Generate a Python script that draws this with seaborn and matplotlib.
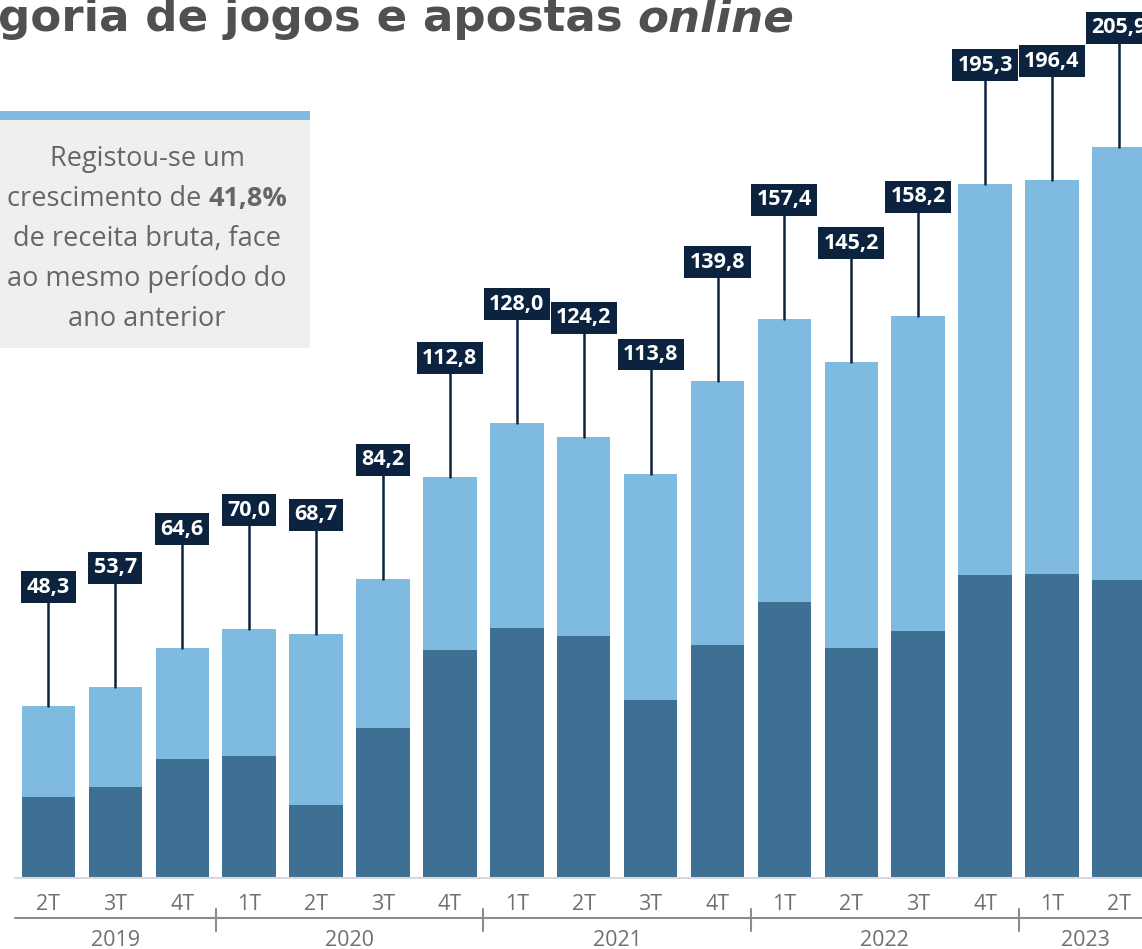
import matplotlib.pyplot as plt
import seaborn as sns
import pandas as pd

# dados (milhoes de euros, receita bruta trimestral)
trimestres = ['2T', '3T', '4T', '1T', '2T', '3T', '4T', '1T', '2T', '3T', '4T',
              '1T', '2T', '3T', '4T', '1T', '2T']
anos = ['2019'] * 3 + ['2020'] * 4 + ['2021'] * 4 + ['2022'] * 4 + ['2023'] * 2
total = [48.3, 53.7, 64.6, 70.0, 68.7, 84.2, 112.8, 128.0, 124.2, 113.8, 139.8,
         157.4, 145.2, 158.2, 195.3, 196.4, 205.9]
parte_escura = [22.7, 25.5, 33.4, 34.2, 20.4, 42.1, 64.1, 70.3, 68.0, 50.0, 65.5,
                77.6, 64.6, 69.4, 85.2, 85.5, 83.8]
grupos_anos = ['2019', '2020', '2021', '2022', '2023']

AZUL_CLARO = '#7fbbe0'
AZUL_ESCURO = '#3d7092'
NAVY = '#0c2340'
CINZA = '#707070'

sns.set_style('white')
plt.rcParams['font.family'] = ['Open Sans', 'DejaVu Sans']

df = pd.DataFrame({
    'periodo': [f'{t} {a}' for t, a in zip(trimestres, anos)],
    'total': total,
    'escura': parte_escura,
})

W, H = 1142, 949
fig = plt.figure(figsize=(W / 100, H / 100), dpi=100)
base_px = 877.5
ax = fig.add_axes([0, (H - base_px) / H, 1, base_px / H])

sns.barplot(data=df, x='periodo', y='total', color=AZUL_CLARO, saturation=1,
            width=0.8, linewidth=0, ax=ax)
sns.barplot(data=df, x='periodo', y='escura', color=AZUL_ESCURO, saturation=1,
            width=0.8, linewidth=0, ax=ax)

# etiquetas com valor total
for i, v in enumerate(total):
    y_lab = v + 33.5
    ax.plot([i, i], [v, y_lab], color=NAVY, lw=1.8, zorder=3)
    ax.text(i, y_lab, f'{v:.1f}'.replace('.', ','), ha='center', va='center',
            color='white', fontweight='bold', fontsize=15.5,
            bbox=dict(boxstyle='square,pad=0.25', fc=NAVY, ec='none'), zorder=4)

# eixo x
for s in ['top', 'left', 'right']:
    ax.spines[s].set_visible(False)
ax.spines['bottom'].set_color('#d9d9d9')
ax.spines['bottom'].set_linewidth(1.5)
ax.spines['bottom'].set_bounds(-0.5, 17)
ax.set_yticks([])
ax.set_xticks(range(len(trimestres)))
ax.set_xticklabels(trimestres, fontsize=15.5, color=CINZA)
ax.set_xticks([i - 0.5 for i in range(len(trimestres) + 1)], minor=True)
ax.tick_params(axis='x', which='major', length=0, pad=12)
ax.tick_params(axis='x', which='minor', length=3.6, width=1.2, color='#d9d9d9')
ax.set_xlabel('')
ax.set_ylabel('')

# linha dos anos
tr = ax.get_xaxis_transform()
h_ax = base_px
y_linha = -(918 - base_px) / h_ax
ax.plot([-0.5, 17], [y_linha, y_linha], transform=tr, clip_on=False,
        color='#8c8c8c', lw=1.5)
inicio = 0
for ano in grupos_anos:
    n = anos.count(ano)
    fim = inicio + n
    if inicio > 0:
        ax.plot([inicio - 0.5, inicio - 0.5],
                [-(909 - base_px) / h_ax, -(931 - base_px) / h_ax],
                transform=tr, clip_on=False, color='#8c8c8c', lw=1.5)
    ax.text((inicio + fim - 1) / 2, -(946 - base_px) / h_ax, ano, transform=tr,
            ha='center', va='baseline', fontsize=15.5, color=CINZA)
    inicio = fim

# limites no fim (set_xticks e plot alargam a vista)
passo = 66.9
ax.set_xlim(-48.5 / passo, (W - 48.5) / passo)
ax.set_ylim(0, base_px / 3.55)

# caixa de destaque
fig.patches.append(plt.Rectangle((0, 1 - 348 / H), 310 / W, 228 / H,
                                 transform=fig.transFigure, fc='#efefef', ec='none'))
fig.patches.append(plt.Rectangle((0, 1 - 120 / H), 310 / W, 9 / H,
                                 transform=fig.transFigure, fc=AZUL_CLARO, ec='none'))
cx = 147
linhas = ['Registou-se um', None, 'de receita bruta, face',
          'ao mesmo período do', 'ano anterior']
base_linhas = [166, 206, 246, 286, 326]
r = fig.canvas.get_renderer()
for txt, yb in zip(linhas, base_linhas):
    if txt is not None:
        fig.text(cx / W, 1 - yb / H, txt, ha='center', va='baseline',
                 fontsize=19.5, color='#666666')
    else:
        t1 = fig.text(0, 1 - yb / H, 'crescimento de', ha='left', va='baseline',
                      fontsize=19.5, color='#666666')
        t2 = fig.text(0, 1 - yb / H, '41,8%', ha='left', va='baseline',
                      fontsize=19.5, color='#666666', fontweight='bold')
        w1 = t1.get_window_extent(r).width
        w2 = t2.get_window_extent(r).width
        gap = 7
        x0 = cx - (w1 + gap + w2) / 2
        t1.set_x(x0 / W)
        t2.set_x((x0 + w1 + gap) / W)

# titulo (cortado no topo, como no original)
t_a = fig.text(-2 / W, 1 - 31 / H, 'goria de jogos e apostas', ha='left',
               va='baseline', fontsize=32.5, fontweight='bold', color='#505050',
               family='DejaVu Sans')
wa = t_a.get_window_extent(r).width
fig.text((-2 + wa + 15) / W, 1 - 31 / H, 'online', ha='left', va='baseline',
         fontsize=32.5, fontweight='bold', style='italic', color='#505050',
         family='DejaVu Sans')

fig.savefig('out.png', dpi=100)
